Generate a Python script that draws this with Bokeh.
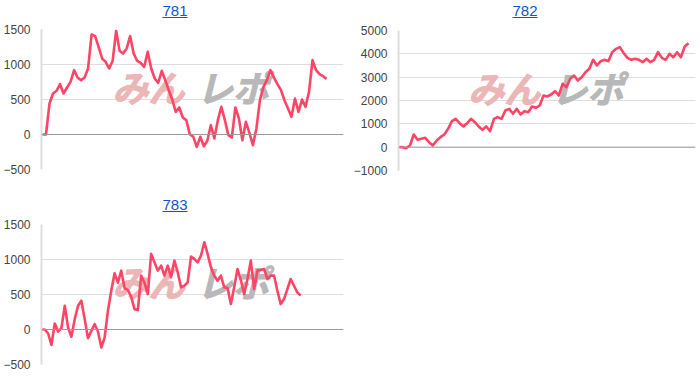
from bokeh.plotting import figure
from bokeh.layouts import column, row
from bokeh.models import Div, Range1d, FixedTicker, Span
from bokeh.core.properties import value
from bokeh.embed import file_html
from bokeh.resources import INLINE

# ---- data ----
titles = ["781", "782", "783"]

v781 = [0, 0, 443, 586, 624, 719, 586, 671, 752, 919,
        814, 776, 814, 943, 1429, 1405, 1252, 1086, 1038, 943,
        1052, 1481, 1195, 1157, 1229, 1405, 1157, 1052, 1024, 967,
        1181, 943, 800, 738, 910, 776, 633, 500, 324, 386,
        243, 205, 5, -33, -176, -33, -167, -90, 133, -57,
        205, 395, 205, -10, -43, 386, 229, -81, 181, 24,
        -152, 86, 490, 681, 776, 919, 814, 719, 633, 490,
        371, 252, 514, 324, 500, 395, 609, 1062, 919, 862,
        833, 795]

v782 = [0, 0, -43, 71, 543, 314, 357, 400, 214, 71,
        286, 429, 543, 786, 1114, 1214, 1029, 886, 1029, 1214,
        1071, 886, 743, 886, 686, 1214, 1286, 1214, 1571, 1643,
        1429, 1643, 1400, 1543, 1500, 1743, 1686, 1786, 2214, 2171,
        2257, 2400, 2214, 2714, 2571, 2929, 3071, 2857, 3000, 3214,
        3357, 3743, 3500, 3686, 3743, 3686, 4071, 4214, 4286, 4029,
        3829, 3743, 3786, 3743, 3643, 3786, 3643, 3743, 4071, 3829,
        3743, 4000, 3857, 4071, 3857, 4314, 4457]

v783 = [0, 0, -57, -220, 86, -29, 19, 339, 29, -105,
        148, 339, 411, 148, -124, -19, 76, -29, -258, -115,
        268, 554, 803, 669, 841, 592, 564, 468, 291, 277,
        769, 669, 506, 1080, 960, 841, 912, 769, 912, 745,
        984, 817, 602, 625, 673, 1041, 1008, 960, 1056, 1247,
        1080, 888, 769, 697, 769, 602, 592, 363, 602, 864,
        707, 506, 721, 984, 578, 841, 850, 864, 721, 769,
        769, 554, 363, 435, 578, 721, 625, 530, 483]

ticks_small = [-500, 0, 500, 1000, 1500]
ticks_big = [-1000, 0, 1000, 2000, 3000, 4000, 5000]

wm_left = "みん"
wm_right = "レポ"

LINE = "#ff4466"
FONT = "Liberation Sans"


def make_chart(vals, ticks, width, height, left, right, top, bottom, first_px, last_px):
    frame_w = width - left - right
    n = len(vals)
    ppx = (last_px - first_px) / (n - 1)
    x0 = -first_px / ppx
    x1 = (n - 1) + (frame_w - last_px) / ppx
    y0, y1 = ticks[0], ticks[-1]
    p = figure(width=width, height=height, output_backend="svg", toolbar_location=None,
               x_range=Range1d(x0, x1), y_range=Range1d(y0, y1),
               min_border_left=left, min_border_right=right,
               min_border_top=top, min_border_bottom=bottom)
    p.outline_line_color = None
    p.background_fill_color = "white"
    p.border_fill_color = "white"
    p.xaxis.visible = False
    p.xgrid.visible = False
    tk = FixedTicker(ticks=ticks)
    ax = p.yaxis[0]
    ax.ticker = tk
    ax.major_tick_line_color = None
    ax.minor_tick_line_color = None
    ax.major_tick_out = 0
    ax.major_tick_in = 0
    ax.major_label_standoff = 11
    ax.major_label_text_font = FONT
    ax.major_label_text_font_size = "12px"
    ax.major_label_text_color = "#444444"
    ax.axis_line_color = "#dddddd"
    ax.axis_line_width = 2
    p.ygrid.ticker = tk
    p.ygrid.grid_line_color = "#dedede"
    p.ygrid.grid_line_width = 1
    p.add_layout(Span(location=0, dimension="width", line_color="#9a9a9a", line_width=1))

    # watermark
    def fx(f):
        return x0 + f * (x1 - x0)
    wy = y0 + 0.60 * (y1 - y0)
    p.text(x=[fx(0.235)], y=[wy], text=[wm_left], text_font=value("Noto Sans CJK JP"),
           text_font_style="bold italic", text_font_size="36px", text_color="#ecb6b6",
           outline_color="#ecb6b6", text_align="left", text_baseline="middle")
    p.text(x=[fx(0.515)], y=[wy], text=[wm_right], text_font=value("Noto Sans CJK JP"),
           text_font_style="bold italic", text_font_size="36px", text_color="#b8b8b8",
           outline_color="#b8b8b8", text_align="left", text_baseline="middle")

    p.line(list(range(n)), vals, line_color=LINE, line_width=2.6, line_join="round")
    return p


def title_div(t, width):
    html = ('<div style="width:%dpx;height:22px;line-height:22px;text-align:center;'
            'font-family:\'Liberation Sans\',Arial,sans-serif;font-size:15px;">'
            '<span style="color:#1155cc;text-decoration:underline;">%s</span></div>') % (width, t)
    return Div(text=html, width=width, height=22, margin=(0, 0, 0, 0))


p1 = make_chart(v781, ticks_small, 350, 172, 40, 7, 7, 25, 1, 286)
p2 = make_chart(v782, ticks_big, 350, 172, 46, 5, 8, 24, 0, 292)
p3 = make_chart(v783, ticks_small, 350, 172, 40, 7, 8, 24, 0, 260)

layout = column(
    row(column(title_div(titles[0], 350), p1, spacing=0),
        column(title_div(titles[1], 350), p2, spacing=0), spacing=0),
    column(title_div(titles[2], 350), p3, spacing=0),
    spacing=0,
)

open("out.html", "w").write(file_html(layout, INLINE))
